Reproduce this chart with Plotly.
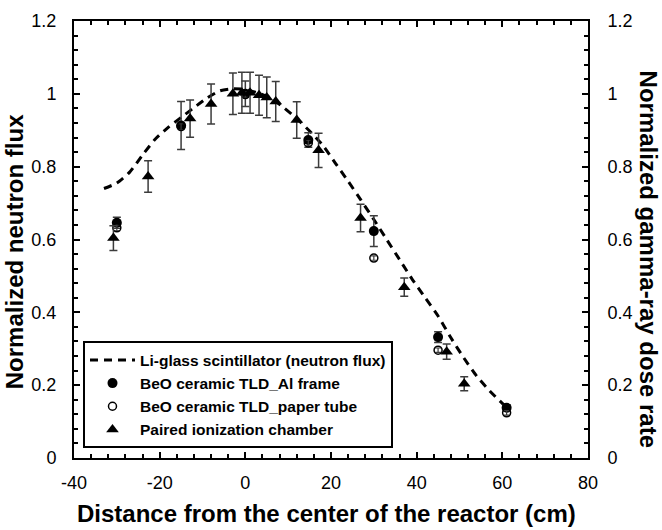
import plotly.graph_objects as go

# Li-glass scintillator (neutron flux) - dashed curve
li_x = [-33, -30, -27, -24, -21, -18, -15, -12, -9, -6, -3, 0, 3, 6, 9, 12, 15, 18,
        21, 24, 27, 30, 33, 36, 39, 42, 45, 48, 51, 54, 57, 60, 61]
li_y = [0.740, 0.755, 0.785, 0.832, 0.876, 0.908, 0.935, 0.962, 0.988, 1.008, 1.014,
        1.012, 1.002, 0.988, 0.962, 0.932, 0.898, 0.860, 0.810, 0.760, 0.708, 0.655,
        0.600, 0.545, 0.490, 0.440, 0.390, 0.330, 0.275, 0.225, 0.185, 0.150, 0.140]

# BeO ceramic TLD, Al frame (filled circles)
al_x = [-30, -15, 0, 14.7, 30, 45, 61]
al_y = [0.646, 0.913, 1.000, 0.873, 0.623, 0.332, 0.138]
al_err = [0.015, 0.066, 0.035, 0.020, 0.042, 0.015, 0.008]

# BeO ceramic TLD, paper tube (open circles)
pt_x = [-30, -15, 0, 14.7, 30, 45, 61]
pt_y = [0.632, 0.910, 0.998, 0.865, 0.549, 0.296, 0.124]
pt_err = [0.008, 0.008, 0.008, 0.008, 0.006, 0.006, 0.006]

# Paired ionization chamber (triangles)
ic_x = [-30.8, -22.7, -12.9, -8.0, -2.9, -0.8, 1.1, 3.2, 5.0, 7.1, 12.0, 17.1,
        26.9, 37.1, 47.0, 51.1]
ic_y = [0.604, 0.773, 0.932, 0.972, 1.000, 1.003, 1.003, 0.996, 0.990, 0.979,
        0.928, 0.845, 0.659, 0.469, 0.292, 0.204]
ic_err = [0.034, 0.043, 0.051, 0.055, 0.057, 0.056, 0.056, 0.055, 0.056, 0.055,
          0.050, 0.047, 0.038, 0.025, 0.021, 0.019]

x_ticks = [-40, -20, 0, 20, 40, 60, 80]
x_labels = ["-40", "-20", "0", "20", "40", "60", "80"]
y_ticks = [0, 0.2, 0.4, 0.6, 0.8, 1, 1.2]
y_labels = ["0", "0.2", "0.4", "0.6", "0.8", "1", "1.2"]

FONT = "Liberation Sans, Arial, sans-serif"
ERR_COLOR = "#3c3c3c"

fig = go.Figure()

fig.add_trace(go.Scatter(
    x=li_x, y=li_y, mode="lines", name="Li-glass scintillator (neutron flux)",
    line=dict(color="black", width=3, dash="8px,6px", shape="spline", smoothing=0.6),
))

fig.add_trace(go.Scatter(
    x=al_x, y=al_y, mode="markers", name="BeO ceramic TLD_Al frame",
    marker=dict(symbol="circle", size=10, color="black"),
    error_y=dict(type="data", array=al_err, color=ERR_COLOR, thickness=1.5, width=4),
))

fig.add_trace(go.Scatter(
    x=pt_x, y=pt_y, mode="markers", name="BeO ceramic TLD_paper tube",
    marker=dict(symbol="circle-open", size=8, color="black", line=dict(width=1.5)),
    error_y=dict(type="data", array=pt_err, color=ERR_COLOR, thickness=1.2, width=3),
))

fig.add_trace(go.Scatter(
    x=ic_x, y=ic_y, mode="markers", name="Paired ionization chamber",
    marker=dict(symbol="triangle-up", size=11, color="black"),
    error_y=dict(type="data", array=ic_err, color=ERR_COLOR, thickness=1.5, width=4),
))

# empty trace to activate the secondary axis
fig.add_trace(go.Scatter(x=[None], y=[None], yaxis="y2", showlegend=False,
                         hoverinfo="skip"))

axis_common = dict(
    showgrid=False, zeroline=False, showline=True, linecolor="black", linewidth=2,
    ticks="inside", ticklen=6, tickwidth=1.5, tickcolor="black",
    tickfont=dict(family=FONT, size=18, color="black"),
)

fig.update_layout(
    width=662, height=530,
    margin=dict(l=74, r=74, t=11, b=72),
    paper_bgcolor="white", plot_bgcolor="white",
    font=dict(family=FONT, color="black"),
    xaxis=dict(range=[-40, 80], tickvals=x_ticks, ticktext=x_labels, mirror="ticks",
               minor=dict(dtick=4, ticks="inside", ticklen=4, tickwidth=1.5,
                          tickcolor="black"),
               ticklabelstandoff=7, **axis_common),
    yaxis=dict(range=[0, 1.2], tickvals=y_ticks, ticktext=y_labels,
               minor=dict(dtick=0.04, ticks="inside", ticklen=4, tickwidth=1.5,
                          tickcolor="black"),
               ticklabelstandoff=12, **axis_common),
    yaxis2=dict(range=[0, 1.2], tickvals=y_ticks, ticktext=y_labels,
                overlaying="y", side="right",
                minor=dict(dtick=0.04, ticks="inside", ticklen=4, tickwidth=1.5,
                           tickcolor="black"),
                ticklabelstandoff=14, **axis_common),
    legend=dict(
        x=0.0175, y=0.022, xanchor="left", yanchor="bottom",
        bordercolor="black", borderwidth=2, bgcolor="white",
        font=dict(family=FONT, size=15.5, color="black", weight="bold"),
        traceorder="normal", itemwidth=45,
    ),
    showlegend=True,
)

fig.add_annotation(
    text="Distance from the center of the reactor (cm)",
    xref="paper", yref="paper", x=(326.5 - 74) / 514, y=(458 - 514.5) / 447,
    xanchor="center", yanchor="middle", showarrow=False,
    font=dict(family=FONT, size=24, color="black", weight="bold"),
)
fig.add_annotation(
    text="Normalized neutron flux",
    xref="paper", yref="paper", x=(14 - 74) / 514, y=(458 - 247.5) / 447,
    xanchor="center", yanchor="middle", showarrow=False, textangle=-90,
    font=dict(family=FONT, size=24, color="black", weight="bold"),
)
fig.add_annotation(
    text="Normalized gamma-ray dose rate",
    xref="paper", yref="paper", x=(648 - 74) / 514, y=(458 - 254) / 447,
    xanchor="center", yanchor="middle", showarrow=False, textangle=90,
    font=dict(family=FONT, size=24, color="black", weight="bold"),
)

fig.write_html("out.html")
